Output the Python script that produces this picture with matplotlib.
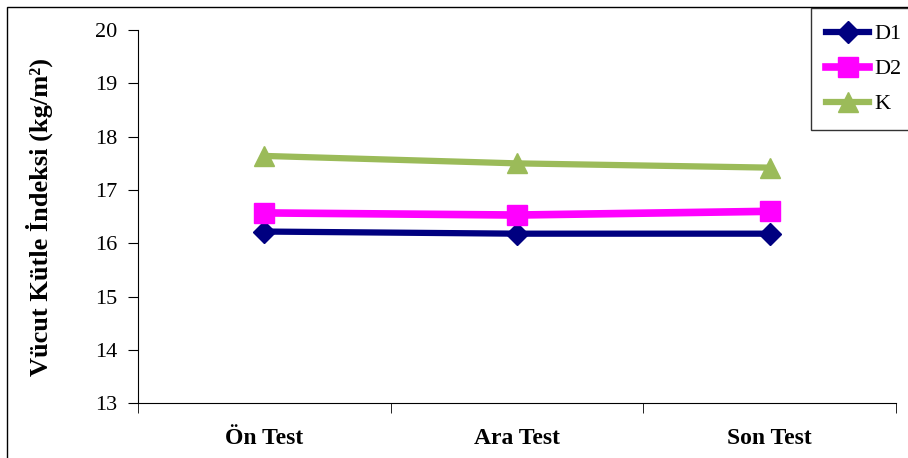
import matplotlib.pyplot as plt
from matplotlib.patches import Rectangle

# data
categories = ["Ön Test", "Ara Test", "Son Test"]
d1 = [16.22, 16.18, 16.18]
d2 = [16.57, 16.53, 16.60]
k = [17.64, 17.50, 17.42]

plt.rcParams['font.family'] = ['Liberation Serif', 'DejaVu Serif']

fig = plt.figure(figsize=(9.08, 4.58), dpi=100)
ax = fig.add_axes([0.152, 0.12, 0.835, 0.814])

x = range(len(categories))
ax.plot(x, d1, color='#000080', lw=4.5, marker='D', ms=11, label='D1', zorder=3)
ax.plot(x, d2, color='#FF00FF', lw=5.5, marker='s', ms=14, label='D2', zorder=3)
ax.plot(x, k, color='#9BBB59', lw=4.5, marker='^', ms=14, label='K', zorder=3)

ax.set_xlim(-0.5, 2.5)
ax.set_ylim(13, 20)
ax.set_yticks(range(13, 21))
ax.tick_params(axis='y', direction='out', length=7, labelsize=16, pad=8)

ax.set_xticks([0, 1, 2])
ax.set_xticklabels(categories, fontsize=17, fontweight='bold')
ax.tick_params(axis='x', length=0, pad=18)
ax.set_xticks([-0.5, 0.5, 1.5, 2.5], minor=True)
ax.tick_params(axis='x', which='minor', direction='out', length=7)

ax.spines['top'].set_visible(False)
ax.spines['right'].set_visible(False)

ax.set_ylabel("Vücut Kütle İndeksi (kg/m²)", fontsize=19, fontweight='bold', labelpad=30)

leg = fig.legend(loc='upper left', bbox_to_anchor=(0.893, 0.982), fontsize=16,
                 frameon=True, fancybox=False, edgecolor='black', handlelength=1.9,
                 labelspacing=0.65, borderpad=0.7, handletextpad=0.25, borderaxespad=0)
leg.get_frame().set_linewidth(1.0)

# outer border around whole chart (right/bottom edges fall outside the image)
fig.patches.append(Rectangle((0.008, -0.1), 1.2, 1.085, transform=fig.transFigure,
                             fill=False, edgecolor='black', lw=1.0))

fig.savefig("out.png", dpi=100)
